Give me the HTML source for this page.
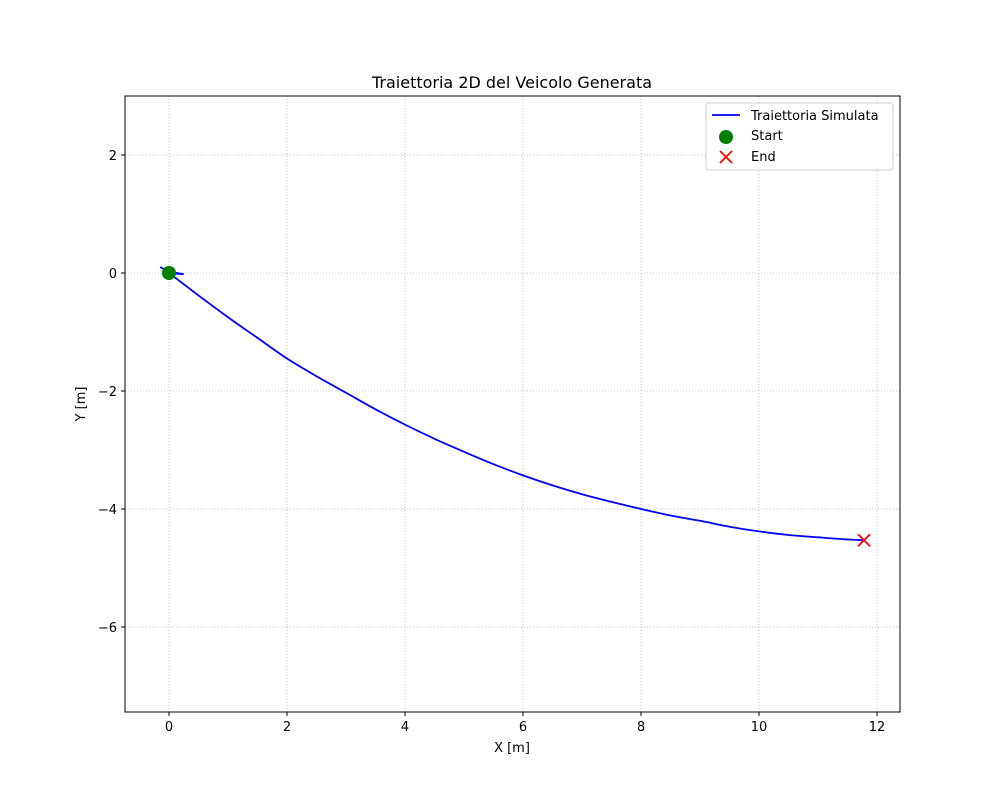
<!DOCTYPE html>
<html><head><meta charset="utf-8"><style>
body{margin:0;background:#fff;font-family:"Liberation Sans","DejaVu Sans",sans-serif}
</style></head><body>
<svg width="1000" height="800" font-family="DejaVu Sans, Liberation Sans, sans-serif">
<g id="grid"></g>
<g id="ticks"></g>
<path id="traj" fill="none" stroke="#0000ff" stroke-width="1.8"/>
<circle id="start" r="7" fill="#008000"/>
<g id="end" stroke="#ff0000" stroke-width="1.8"></g>
<rect x="125" y="96" width="775" height="616" fill="none" stroke="#000" stroke-width="1"/>
<text x="512" y="88" text-anchor="middle" font-size="16">Traiettoria 2D del Veicolo Generata</text>
<text x="512" y="752" text-anchor="middle" font-size="13">X [m]</text>
<text x="85" y="404" text-anchor="middle" font-size="13" transform="rotate(-90 85 404)">Y [m]</text>
<g>
<rect x="706" y="103" width="187" height="67" rx="3" fill="#fff" stroke="#ccc"/>
<line x1="712" y1="115" x2="740" y2="115" stroke="#0000ff" stroke-width="1.8"/>
<text x="751" y="120" font-size="13">Traiettoria Simulata</text>
<circle cx="726" cy="137" r="7" fill="#008000"/>
<text x="751" y="140" font-size="13">Start</text>
<path d="M720 151L732 163M732 151L720 163" stroke="#ff0000" stroke-width="1.8"/>
<text x="751" y="161" font-size="13">End</text>
</g>
</svg>
<script>
const tailX=[-0.15,0.0,0.25,0.1,0];
const tailY=[0.1,0.02,-0.02,-0.01,0];
const xs=[0,0.5,1,1.5,2,2.5,3,3.5,4,4.5,5,5.5,6,6.5,7,7.5,8,8.5,9,9.5,10,10.5,11,11.4,11.78];
const ys=[0,-0.38,-0.75,-1.1,-1.45,-1.75,-2.03,-2.31,-2.57,-2.81,-3.03,-3.24,-3.43,-3.6,-3.75,-3.88,-4.0,-4.11,-4.2,-4.3,-4.38,-4.44,-4.48,-4.51,-4.53];
const xTicks=[0,2,4,6,8,10,12];
const yTicks=[2,0,-2,-4,-6];
const startPt=[0,0];
const endPt=[11.78,-4.53];
const sx=v=>169+v*59, sy=v=>273-v*59;
const ns='http://www.w3.org/2000/svg';
const grid=document.getElementById('grid'),tk=document.getElementById('ticks');
function mk(tag,attrs,parent){const e=document.createElementNS(ns,tag);for(const k in attrs)e.setAttribute(k,attrs[k]);parent.appendChild(e);return e;}
xTicks.forEach(t=>{const x=sx(t);
const g=mk('line',{x1:x,x2:x,y1:96,y2:712,stroke:'#b0b0b0','stroke-dasharray':'1,2','stroke-width':0.8},grid);


mk('line',{x1:x,x2:x,y1:712,y2:716,stroke:'#000'},tk);
const l=mk('text',{x:x,y:731,'text-anchor':'middle','font-size':13},tk);l.textContent=String(t).replace('-','\u2212');

});
yTicks.forEach(t=>{const y=sy(t);
const g=mk('line',{x1:125,x2:900,y1:y,y2:y,stroke:'#b0b0b0','stroke-dasharray':'1,2','stroke-width':0.8},grid);


mk('line',{x1:121,x2:125,y1:y,y2:y,stroke:'#000'},tk);
const l=mk('text',{x:117,y:y+5,'text-anchor':'end','font-size':13},tk);l.textContent=String(t).replace('-','\u2212');

});
let d=tailX.map((x,i)=>(i?'L':'M')+sx(x)+' '+sy(tailY[i])).join('');
const P=xs.map((x,i)=>[sx(x),sy(ys[i])]);
for(let i=0;i<P.length-1;i++){const p0=P[Math.max(0,i-1)],p1=P[i],p2=P[i+1],p3=P[Math.min(P.length-1,i+2)];
d+=`C${p1[0]+(p2[0]-p0[0])/6} ${p1[1]+(p2[1]-p0[1])/6} ${p2[0]-(p3[0]-p1[0])/6} ${p2[1]-(p3[1]-p1[1])/6} ${p2[0]} ${p2[1]}`;}
document.getElementById('traj').setAttribute('d',d);
const s=document.getElementById('start');s.setAttribute('cx',sx(startPt[0]));s.setAttribute('cy',sy(startPt[1]));
const ex=sx(endPt[0]),ey=sy(endPt[1]);
mk('path',{d:`M${ex-6} ${ey-6}L${ex+6} ${ey+6}M${ex+6} ${ey-6}L${ex-6} ${ey+6}`},document.getElementById('end'));
</script>
</body></html>
